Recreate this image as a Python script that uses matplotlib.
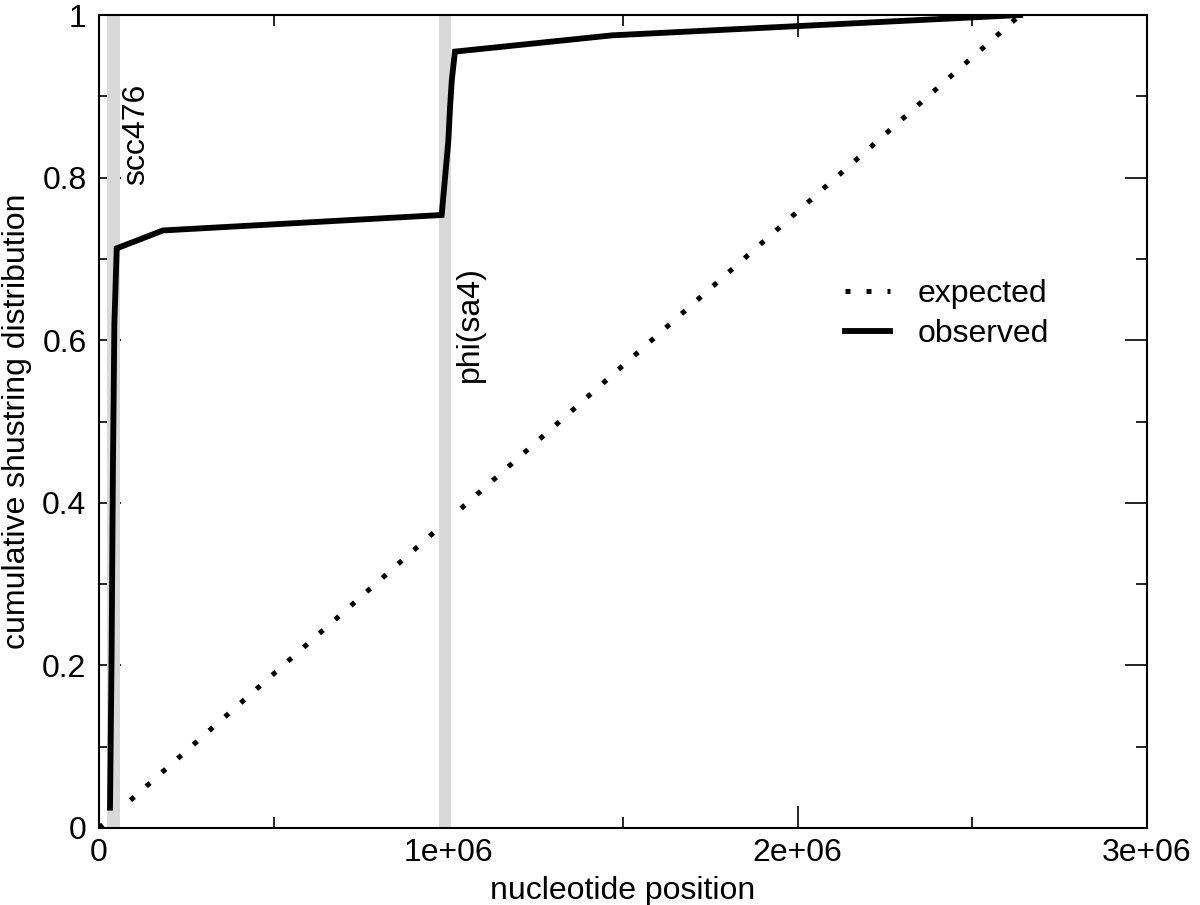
import matplotlib
matplotlib.use("Agg")
import matplotlib.pyplot as plt
from matplotlib.ticker import MultipleLocator, FuncFormatter

plt.rcParams['font.family'] = ['Liberation Sans', 'DejaVu Sans']

# Observed cumulative shustring distribution
obs_x = [31500, 36000, 40000, 44000, 50700, 183000, 981000, 990000,
         1000000, 1005000, 1010000, 1019000, 1469000, 2637000]
obs_y = [0.025, 0.21, 0.45, 0.62, 0.713, 0.735, 0.754, 0.797,
         0.845, 0.887, 0.92, 0.955, 0.975, 1.0]

# Expected (uniform) distribution
exp_x = [0, 2637000]
exp_y = [0, 1]

# Highlighted regions: name, start, end, label x, label y
regions = [("scc476", 23000, 60000, 64000, 0.916),
           ("phi(sa4)", 972000, 1008000, 1020000, 0.549)]

fig = plt.figure(figsize=(12, 9.05), dpi=100)
ax = fig.add_axes([0.0825, 0.0851, 0.8733, 0.8983])

ax.plot(exp_x, exp_y, color='black', lw=3.6, linestyle=(0, (1, 3.2)),
        label='expected', zorder=1)
for name, x0, x1, lx, ly in regions:
    ax.axvspan(x0, x1, color='#d9d9d9', lw=0, zorder=2)
for name, x0, x1, lx, ly in regions:
    va = 'top' if ly > 0.9 else 'bottom'
    ax.text(lx, ly, name, rotation=90, ha='left', va=va,
            fontsize=23, zorder=4)
ax.plot(obs_x, obs_y, color='black', lw=4.2, solid_joinstyle='miter',
        label='observed', zorder=3)

ax.set_xlim(0, 3e6)
ax.set_ylim(0, 1)
ax.xaxis.set_major_locator(MultipleLocator(1e6))
ax.xaxis.set_minor_locator(MultipleLocator(5e5))
ax.yaxis.set_major_locator(MultipleLocator(0.2))
ax.yaxis.set_minor_locator(MultipleLocator(0.1))


def xfmt(v, pos):
    if v == 0:
        return "0"
    return "%de+06" % round(v / 1e6)


def yfmt(v, pos):
    return "%g" % round(v, 1)


ax.xaxis.set_major_formatter(FuncFormatter(xfmt))
ax.yaxis.set_major_formatter(FuncFormatter(yfmt))
ax.tick_params(which='both', direction='in', top=True, right=True,
               labelsize=23, width=1.2, color='black')
ax.tick_params(which='major', length=16)
ax.tick_params(which='minor', length=8)
ax.tick_params(axis='y', which='major', pad=9)
ax.tick_params(axis='x', which='major', pad=7)
for s in ax.spines.values():
    s.set_linewidth(1.5)

ax.set_xlabel("nucleotide position", fontsize=23, labelpad=6)
ax.set_ylabel("cumulative shustring distribution", fontsize=23, labelpad=7)

ax.legend(loc='center left', bbox_to_anchor=(0.697, 0.632), frameon=False,
          fontsize=23, borderpad=0, handlelength=1.4, handletextpad=0.85,
          labelspacing=0.3)

fig.savefig("out.png", dpi=100)
